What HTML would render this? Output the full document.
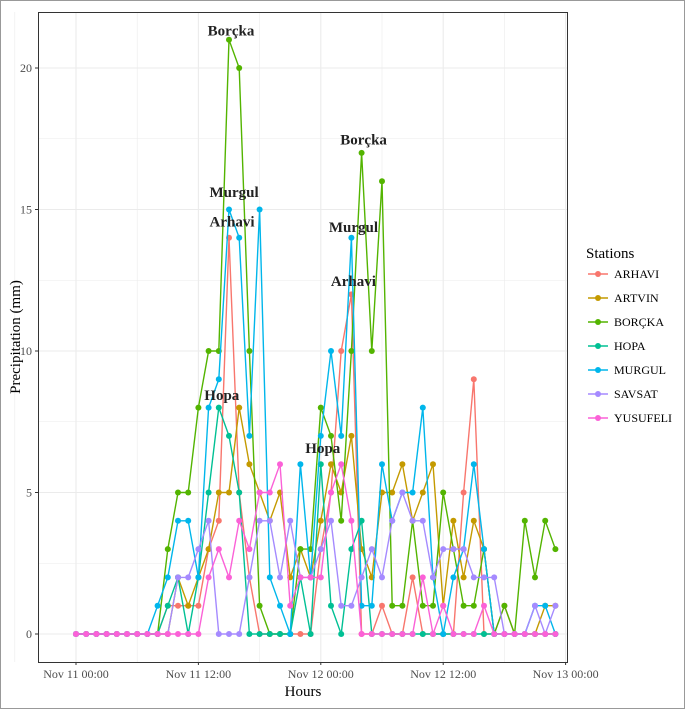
<!DOCTYPE html>
<html><head><meta charset="utf-8"><style>
body{margin:0;background:#fff;}
svg{display:block;font-family:"Liberation Serif",serif;}
</style></head><body>
<svg id="chart" width="685" height="709" viewBox="0 0 685 709">
<rect x="0.5" y="0.5" width="684" height="708" fill="#fff" stroke="#999"/>
<g id="grid"></g>
<g id="series"></g>
<g id="labels"></g>
<rect x="38.5" y="12.5" width="529" height="650" fill="none" stroke="#333" stroke-width="1"/>
<g id="axes"></g>
<text x="303" y="696" font-size="15" text-anchor="middle" fill="#000">Hours</text>
<text transform="translate(20,337) rotate(-90)" font-size="15" text-anchor="middle" fill="#000">Precipitation (mm)</text>
<g id="legend">
<text x="586" y="258" font-size="15" fill="#000">Stations</text>
</g>
</svg>
<script>
const stations = ["ARHAVI","ARTVIN","BORÇKA","HOPA","MURGUL","SAVSAT","YUSUFELI"];
const colors = ["#F8766D","#C49A00","#53B400","#00C094","#00B6EB","#A58AFF","#FB61D7"];
const arhavi   = [0,0,0,0,0,0,0,0,0,1,1,1,1,3,4,14,5,2,0,0,0,0,0,0,3,5,10,12,0,0,1,0,0,2,0,0,0,0,5,9,0,0,1,0,0,0,0,0];
const artvin   = [0,0,0,0,0,0,0,0,0,0,2,1,2,3,5,5,8,6,5,4,5,2,3,2,4,6,5,7,3,2,5,5,6,4,5,6,1,4,2,4,3,0,0,0,0,0,1,1];
const borcka   = [0,0,0,0,0,0,0,0,0,3,5,5,8,10,10,21,20,10,1,0,0,0,3,3,8,7,4,10,17,10,16,1,1,4,1,1,5,3,1,1,3,0,1,0,4,2,4,3];
const hopa     = [0,0,0,0,0,0,0,0,0,1,2,0,2,5,8,7,5,0,0,0,0,0,2,0,6,1,0,3,4,0,0,0,0,0,0,0,0,0,0,0,0,0,0,0,0,0,0,0];
const murgul   = [0,0,0,0,0,0,0,0,1,2,4,4,2,8,9,15,14,7,15,2,1,0,6,2,7,10,7,14,1,1,6,4,5,5,8,2,0,2,3,6,3,0,0,0,0,1,1,0];
const savsat   = [0,0,0,0,0,0,0,0,0,0,2,2,3,4,0,0,0,2,4,4,2,4,2,2,3,4,1,1,2,3,2,4,5,4,4,2,3,3,3,2,2,2,0,0,0,1,0,1];
const yusufeli = [0,0,0,0,0,0,0,0,0,0,0,0,0,2,3,2,4,3,5,5,6,1,2,2,2,5,6,4,0,0,0,0,0,0,2,0,1,0,0,0,1,0,0,0,0,0,0,0];
const seriesValues = [arhavi,artvin,borcka,hopa,murgul,savsat,yusufeli];
const yTicks = [0,5,10,15,20];
const xTickHours = [0,12,24,36,48];
const xTickLabels = ["Nov 11 00:00","Nov 11 12:00","Nov 12 00:00","Nov 12 12:00","Nov 13 00:00"];
const peakNames = ["Borçka","Borçka","Murgul","Murgul","Arhavi","Arhavi","Hopa","Hopa"];
const peakHours = [15,28,15.3,27,15.1,27,14.1,24];
const peakLabelValues = [21.15,17.3,15.45,14.2,14.4,12.3,8.27,6.4];

const NS="http://www.w3.org/2000/svg";
const xs = h => 76 + h*10.2;
const ys = v => 634 - v*28.3;
function mk(tag, attrs, parent){const e=document.createElementNS(NS,tag);for(const k in attrs)e.setAttribute(k,attrs[k]);parent.appendChild(e);return e;}
const grid=document.getElementById('grid');
for(let v=0; v<=22.5; v+=2.5){
  const l=mk('line',{x1:38,x2:567,y1:ys(v),y2:ys(v),stroke:'#ebebeb','stroke-width':(v%5===0)?1.1:0.6},grid);
  
  
}
for(let h=-6; h<=48; h+=6){
  const l=mk('line',{x1:xs(h),x2:xs(h),y1:12,y2:662,stroke:'#ebebeb','stroke-width':(h%12===0)?1.1:0.6},grid);
  
  
}
const axes=document.getElementById('axes');
yTicks.forEach(v=>{
  const t=mk('line',{x1:35,x2:38,y1:ys(v),y2:ys(v),stroke:'#333'},axes);
  
  
  const tx=mk('text',{x:32,y:ys(v)+4,'font-size':12,'text-anchor':'end',fill:'#4d4d4d'},axes);
  tx.textContent=v;
  
  
});
xTickHours.forEach((h,i)=>{
  const t=mk('line',{x1:xs(h),x2:xs(h),y1:662,y2:665,stroke:'#333'},axes);
  
  
  const tx=mk('text',{x:xs(h),y:678,'font-size':12,'text-anchor':'middle',fill:'#4d4d4d'},axes);
  tx.textContent=xTickLabels[i];
  
  
});
const sg=document.getElementById('series');
seriesValues.forEach((vals,si)=>{
  const g=mk('g',{},sg);
  
  
  const pts=vals.map((v,h)=>xs(h)+','+ys(v)).join(' ');
  const pl=mk('polyline',{points:pts,fill:'none',stroke:colors[si],'stroke-width':1.4},g);
  
  
  vals.forEach((v,h)=>{
    const c=mk('circle',{cx:xs(h),cy:ys(v),r:3,fill:colors[si]},g);
    
    
  });
});
const lg=document.getElementById('labels');
peakNames.forEach((n,i)=>{
  const t=mk('text',{x:xs(peakHours[i])+2,y:ys(peakLabelValues[i]),'font-size':15,'font-weight':'bold','text-anchor':'middle',fill:'#222'},lg);
  t.textContent=n;
  
  
});
const leg=document.getElementById('legend');
stations.forEach((s,i)=>{
  const y=274+i*24;
  const g=mk('g',{},leg);
  
  
  mk('line',{x1:588,x2:608,y1:y,y2:y,stroke:colors[i],'stroke-width':1.4},g);
  mk('circle',{cx:598,cy:y,r:3,fill:colors[i]},g);
  const t=mk('text',{x:614,y:y+4,'font-size':12,fill:'#000'},g);
  t.textContent=s;
});
</script>
</body></html>
